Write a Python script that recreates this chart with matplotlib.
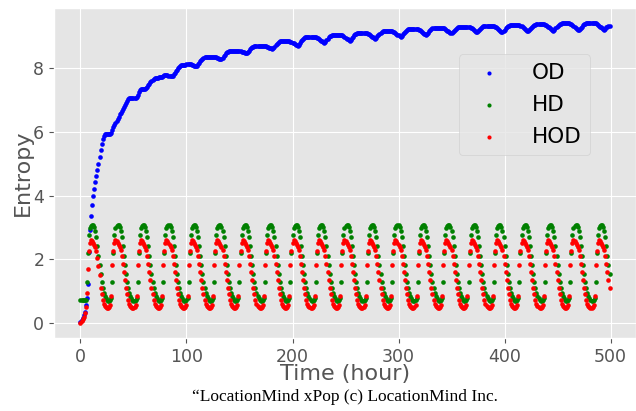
import matplotlib
matplotlib.use("Agg")
import matplotlib.pyplot as plt
import numpy as np

# ---------------- data ----------------
# OD entropy, one row per day (24 hourly values), last day partial
od_days = [
    [0.02,0.08,0.15,0.25,0.35,0.56,0.77,1.24,2.23,2.92,3.35,3.70,3.98,4.22,4.43,4.61,4.80,5.00,5.21,5.42,5.63,5.77,5.87,5.92],
    [5.93,5.93,5.93,5.94,5.95,5.98,6.05,6.15,6.22,6.28,6.35,6.42,6.48,6.55,6.61,6.67,6.73,6.79,6.85,6.91,6.97,7.02,7.05,7.06],
    [7.06,7.07,7.07,7.07,7.08,7.10,7.16,7.25,7.31,7.34,7.35,7.35,7.34,7.35,7.38,7.42,7.47,7.52,7.56,7.60,7.64,7.67,7.69,7.70],
    [7.70,7.70,7.71,7.71,7.72,7.74,7.77,7.79,7.80,7.80,7.79,7.77,7.76,7.75,7.75,7.77,7.81,7.86,7.91,7.96,8.00,8.04,8.07,8.09],
    [8.10,8.10,8.11,8.11,8.12,8.12,8.13,8.13,8.12,8.11,8.09,8.08,8.07,8.06,8.08,8.12,8.17,8.22,8.26,8.30,8.32,8.34,8.35,8.35],
    [8.35,8.35,8.36,8.36,8.36,8.36,8.36,8.35,8.34,8.33,8.31,8.30,8.29,8.28,8.31,8.37,8.43,8.47,8.50,8.52,8.53,8.54,8.55,8.55],
    [8.55,8.55,8.55,8.55,8.55,8.55,8.54,8.53,8.52,8.51,8.50,8.49,8.48,8.47,8.50,8.54,8.59,8.63,8.66,8.68,8.70,8.71,8.71,8.71],
    [8.71,8.71,8.71,8.71,8.71,8.70,8.70,8.69,8.67,8.66,8.64,8.63,8.62,8.61,8.64,8.68,8.73,8.77,8.80,8.82,8.84,8.85,8.85,8.85],
    [8.85,8.85,8.85,8.85,8.85,8.84,8.83,8.82,8.80,8.78,8.76,8.74,8.72,8.71,8.74,8.79,8.85,8.89,8.93,8.95,8.97,8.98,8.98,8.98],
    [8.98,8.98,8.98,8.98,8.98,8.98,8.97,8.96,8.94,8.92,8.89,8.86,8.84,8.81,8.80,8.83,8.88,8.93,8.97,9.00,9.02,9.04,9.05,9.05],
    [9.05,9.05,9.05,9.05,9.05,9.05,9.04,9.03,9.01,8.99,8.96,8.93,8.91,8.88,8.87,8.90,8.94,8.99,9.03,9.06,9.08,9.10,9.11,9.11],
    [9.11,9.11,9.11,9.11,9.11,9.11,9.10,9.09,9.07,9.05,9.02,8.99,8.97,8.94,8.93,8.96,9.00,9.05,9.09,9.12,9.14,9.16,9.17,9.17],
    [9.17,9.17,9.17,9.17,9.17,9.17,9.16,9.15,9.13,9.11,9.08,9.05,9.03,9.00,8.99,9.02,9.06,9.11,9.15,9.18,9.20,9.22,9.23,9.23],
    [9.23,9.23,9.23,9.23,9.23,9.23,9.22,9.21,9.19,9.17,9.14,9.11,9.09,9.06,9.05,9.08,9.12,9.16,9.20,9.23,9.25,9.26,9.27,9.27],
    [9.27,9.27,9.27,9.27,9.27,9.27,9.26,9.25,9.23,9.21,9.18,9.16,9.13,9.11,9.10,9.13,9.16,9.21,9.24,9.27,9.29,9.30,9.31,9.31],
    [9.31,9.31,9.31,9.31,9.31,9.31,9.30,9.29,9.27,9.25,9.22,9.19,9.17,9.14,9.13,9.16,9.19,9.24,9.27,9.30,9.32,9.33,9.34,9.34],
    [9.34,9.34,9.34,9.34,9.34,9.34,9.33,9.31,9.29,9.27,9.24,9.21,9.18,9.15,9.14,9.17,9.21,9.26,9.29,9.32,9.34,9.36,9.37,9.37],
    [9.37,9.37,9.37,9.37,9.37,9.37,9.36,9.34,9.32,9.29,9.26,9.23,9.20,9.17,9.16,9.19,9.23,9.27,9.31,9.34,9.36,9.37,9.38,9.38],
    [9.38,9.38,9.38,9.38,9.38,9.38,9.37,9.35,9.33,9.31,9.28,9.25,9.22,9.19,9.18,9.21,9.25,9.30,9.33,9.36,9.38,9.40,9.41,9.41],
    [9.41,9.41,9.41,9.41,9.41,9.41,9.40,9.38,9.36,9.33,9.30,9.27,9.24,9.21,9.20,9.23,9.27,9.31,9.35,9.38,9.40,9.41,9.42,9.42],
    [9.42,9.42,9.42,9.42,9.42,9.42,9.41,9.39,9.37,9.34,9.31,9.28,9.25,9.22,9.21,9.24,9.28,9.31,9.33,9.34],
]

# HD / HOD: first day, then the repeating daily cycle (identical every day)
hd_day0 = [0.72,0.72,0.72,0.72,0.72,0.72,1.28,2.20,2.75,2.98,3.05,3.08,3.07,3.02,2.90,2.70,2.42,2.10,1.82,1.53,1.30,1.10,0.95,0.85]
hd_daily = [0.78,0.72,0.70,0.70,0.72,0.80,1.28,2.20,2.75,2.98,3.05,3.08,3.07,3.02,2.90,2.70,2.42,2.10,1.82,1.53,1.30,1.10,0.95,0.85]
hod_day0 = [0.00,0.05,0.12,0.20,0.30,0.50,0.94,1.70,2.25,2.50,2.60,2.58,2.52,2.45,2.38,2.25,2.05,1.80,1.50,1.11,0.90,0.72,0.60,0.53]
hod_daily = [0.50,0.48,0.48,0.50,0.55,0.85,1.82,2.25,2.50,2.60,2.58,2.52,2.45,2.38,2.28,2.10,1.85,1.60,1.35,1.11,0.90,0.72,0.60,0.53]
n_days = 21

series_labels = ["OD", "HD", "HOD"]
series_colors = ["blue", "green", "red"]
x_label = "Time (hour)"
y_label = "Entropy"
caption = "\u201cLocationMind xPop (c) LocationMind Inc."

# ---------------- build series ----------------
od = np.array([v for day in od_days for v in day])
n = len(od)
hd = np.array((hd_day0 + hd_daily * (n_days - 1))[:n])
hod = np.array((hod_day0 + hod_daily * (n_days - 1))[:n])
t = np.arange(n)

# ---------------- plot ----------------
plt.style.use("ggplot")
fig = plt.figure(figsize=(6.36, 4.11), dpi=100)
ax = fig.add_axes([0.0849, 0.1776, 0.9151, 0.8029])

for y, lab, col in zip([od, hd, hod], series_labels, series_colors):
    ax.scatter(t, y, s=11, color=col, label=lab, linewidths=0)

ax.set_xlabel(x_label, fontsize=16, color="#555555", labelpad=-1)
ax.set_ylabel(y_label, fontsize=16, color="#555555", labelpad=0)
ax.tick_params(axis="both", labelsize=12.5, colors="#555555")
ax.set_xticks([0, 100, 200, 300, 400, 500])
ax.set_yticks([0, 2, 4, 6, 8])

leg = ax.legend(loc="upper right", bbox_to_anchor=(0.94, 0.892),
                fontsize=15.5, scatterpoints=1, markerscale=0.9,
                labelspacing=0.55, handletextpad=1.0)
for txt in leg.get_texts():
    txt.set_color("black")

fig.text(0.543, 0.034, caption, ha="center", va="center",
         fontsize=12.5, family="Liberation Serif", color="black")

fig.savefig("out.png", dpi=100)
